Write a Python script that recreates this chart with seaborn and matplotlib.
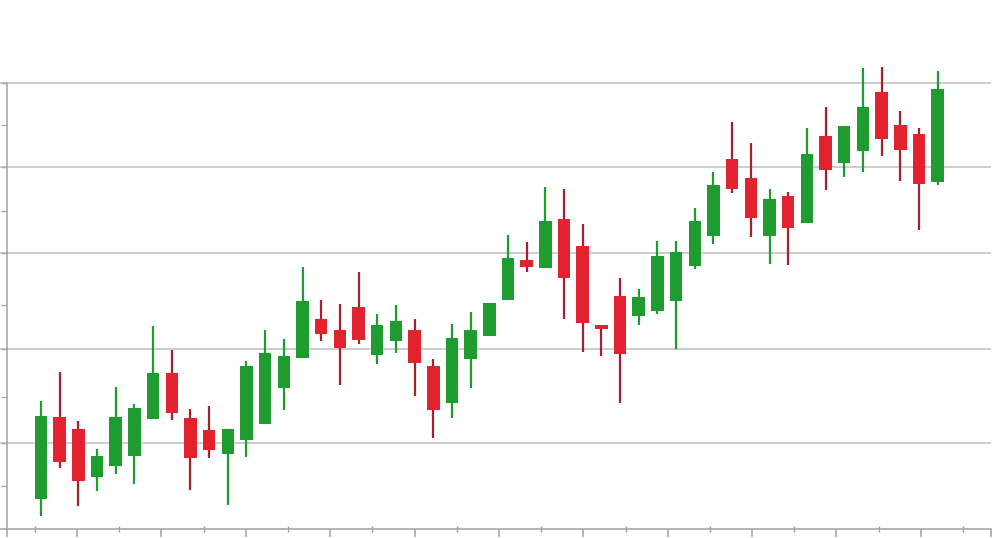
import numpy as np
import pandas as pd
import matplotlib
matplotlib.use("Agg")
import matplotlib.pyplot as plt
import seaborn as sns

# ---- data (price units) ----
opens = [3.33, 12.44, 11.11, 5.78, 7.00, 8.11, 12.22, 17.33, 12.33, 11.00,
         8.33, 9.89, 11.67, 15.67, 19.00, 23.33, 22.11, 24.67, 19.33, 20.89,
         22.11, 18.11, 14.00, 18.89, 21.44, 25.44, 29.89, 29.00, 34.44, 31.44,
         22.67, 25.89, 23.67, 24.22, 25.33, 29.22, 32.56, 41.11, 39.00, 32.56,
         37.00, 34.00, 43.67, 40.67, 42.00, 48.56, 44.89, 43.89, 38.56]
highs = [14.22, 17.44, 12.00, 8.89, 15.78, 13.89, 22.56, 19.89, 13.33, 13.67,
         11.11, 18.67, 22.11, 21.11, 29.11, 25.44, 25.00, 28.56, 23.89, 24.89,
         23.33, 18.89, 22.78, 24.11, 25.11, 32.67, 31.89, 38.00, 37.78, 33.89,
         22.67, 27.89, 26.67, 32.00, 32.00, 35.67, 39.67, 45.22, 42.89, 37.78,
         37.44, 44.56, 46.89, 44.78, 51.22, 51.33, 46.44, 44.56, 50.89]
lows = [1.44, 6.78, 2.56, 4.22, 6.11, 5.00, 12.22, 12.11, 4.33, 7.89,
        2.67, 8.00, 11.67, 13.22, 19.00, 20.89, 16.00, 20.56, 18.33, 19.56,
        14.78, 10.11, 12.33, 15.67, 21.44, 25.44, 28.56, 29.00, 23.33, 19.67,
        19.22, 14.00, 22.67, 23.89, 20.00, 28.89, 31.67, 37.33, 32.44, 29.44,
        29.33, 34.00, 37.67, 39.11, 39.67, 41.44, 38.67, 33.22, 38.22]
closes = [12.56, 7.44, 5.33, 8.11, 12.44, 13.44, 17.33, 12.89, 7.89, 8.78,
          11.11, 18.11, 19.56, 19.22, 25.33, 21.67, 20.11, 21.00, 22.67, 23.11,
          18.44, 13.22, 21.22, 22.11, 25.11, 30.11, 29.11, 34.22, 27.89, 22.89,
          22.22, 19.44, 25.78, 30.33, 30.78, 34.22, 38.22, 37.78, 34.56, 36.67,
          33.44, 41.67, 39.89, 44.78, 46.89, 43.33, 42.11, 38.33, 48.89]
grid_levels = [9.61, 20.0, 30.72, 40.22, 49.56]
minor_levels = [4.78, 14.67, 24.89, 35.33, 44.89]

GREEN = "#1f9c30"
RED = "#e2222f"
RED_WICK = "#a81e2c"

df = pd.DataFrame({"idx": np.arange(len(opens)), "open": opens, "high": highs,
                   "low": lows, "close": closes})
df["body_lo"] = df[["open", "close"]].min(axis=1)
df["body_h"] = (df["close"] - df["open"]).abs()
df["up"] = df["close"] >= df["open"]

sns.set_theme(style="white")
plt.rcParams["font.family"] = ["DejaVu Sans"]

fig = plt.figure(figsize=(10, 5.38), dpi=100)
ax = fig.add_axes([0, 9 / 538, 0.991, 529 / 538])
ax.set_facecolor("white")

# gridlines
for lv in grid_levels:
    ax.axhline(lv, color="#c9c9c9", lw=1.3, zorder=0)

# wicks
wick_cols = [GREEN if u else RED_WICK for u in df["up"]]
ax.vlines(df["idx"], df["low"], df["high"], colors=wick_cols, lw=1.6, zorder=2)

# bodies
for sub, col in [(df[df["up"]], GREEN), (df[~df["up"]], RED)]:
    sub = sub.sort_values("idx")
    sns.barplot(data=sub, x="idx", y="body_h", native_scale=True, width=0.67,
                color=col, saturation=1, errorbar=None,
                bottom=sub["body_lo"].to_numpy(), linewidth=0, zorder=3, ax=ax)

ax.set_xlabel("")
ax.set_ylabel("")

x0 = -2.195
x1 = 50.857
ax.set_xlim(x0, x1)
ax.set_ylim(0, 58.78)

# spines
for s in ["top", "right"]:
    ax.spines[s].set_visible(False)
ax.spines["left"].set_position(("axes", 7 / 991))
ax.spines["left"].set_bounds(0, grid_levels[-1])
for s in ["left", "bottom"]:
    ax.spines[s].set_color("#a9a9a9")
    ax.spines[s].set_linewidth(1.2)

# ticks
spine_x = x0 + 7 / 18.68
x_major = list(np.linspace(1.93, 47.1, 11))
step = x_major[1] - x_major[0]
x_minor = [x_major[0] - step / 2] + [m + step / 2 for m in x_major]
ax.set_xticks([spine_x] + x_major + [x1])
ax.set_xticks(x_minor, minor=True)
ax.set_yticks(minor_levels + grid_levels)
ax.set_xticklabels([])
ax.set_yticklabels([])
ax.tick_params(axis="x", which="major", direction="out", length=6, width=1.1,
               color="#a0a0a0", bottom=True)
ax.tick_params(axis="x", which="minor", direction="inout", length=4, width=1.0,
               color="#a0a0a0", bottom=True)
ax.tick_params(axis="y", which="major", direction="out", length=4, width=1.0,
               color="#a8a8a8", left=True)

fig.savefig("out.png", dpi=100, facecolor="white")
